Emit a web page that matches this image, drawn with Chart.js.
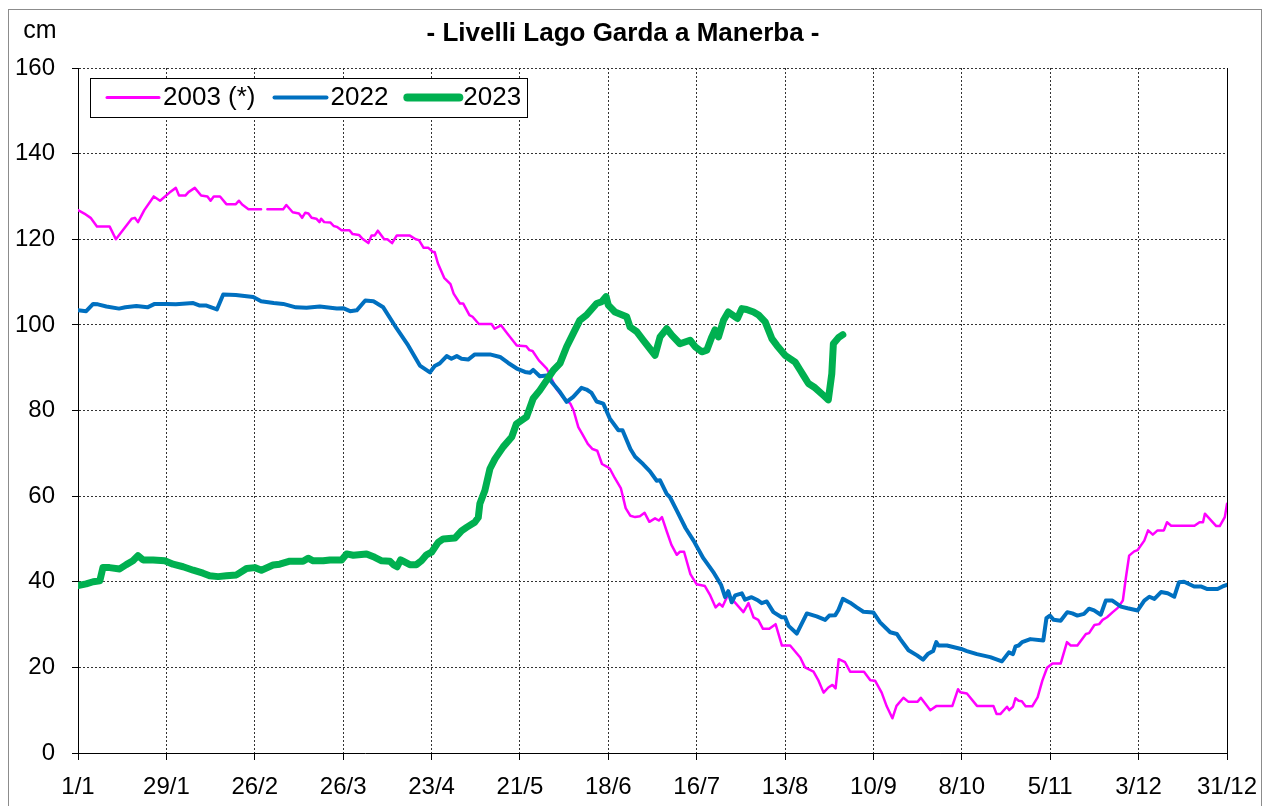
<!DOCTYPE html>
<html lang="it">
  <head>
    <meta charset="UTF-8" />
    <title>Livelli Lago Garda a Manerba</title>
    <script src="https://cdn.jsdelivr.net/npm/chart.js"></script>
    <style>
      html, body { margin: 0; padding: 0; background: #fff; }
    </style>
  </head>
  <body>
    <canvas id="lagoChart" width="1264" height="806"></canvas>

    <script>
      // giorno dell'anno (0 = 1/1), livello in cm
      const xTickLabels = ["1/1", "29/1", "26/2", "26/3", "23/4", "21/5", "18/6", "16/7", "13/8", "10/9", "8/10", "5/11", "3/12", "31/12"];

      const days2003 = [0, 2, 4, 6, 10, 12, 17, 18, 19, 21, 24, 26, 29, 31, 32, 34, 35, 37, 39, 41, 42, 43, 45, 47, 50, 51, 52, 54, 58, 59, 60, 65, 66, 68, 70, 71, 72, 73, 74, 75.5, 76.5, 77, 78, 80, 81, 82, 83.5, 86, 87, 89, 90, 92, 93, 94, 95, 97, 98, 99.5, 101, 105, 107, 108, 109.5, 111, 112.5, 113, 114, 116, 118, 119, 121, 122, 124, 125, 127, 131, 132, 134, 136, 139, 142, 143, 144, 146, 148.5, 150.5, 151.5, 153.5, 156, 157, 158.5, 160, 161.5, 163, 164.5, 166, 167.5, 168.5, 170, 172, 173.5, 175, 176.5, 178, 179.5, 181, 182.8, 184, 185, 186.5, 188, 189.7, 190.7, 192, 194, 196, 198.6, 200.3, 202, 203.2, 204.2, 206, 207.6, 210.8, 212.4, 214, 215.5, 217, 219, 221, 223, 225.6, 228.8, 230.3, 233, 234.6, 236.2, 237.7, 239, 240, 241, 243, 244.6, 249, 251, 252.5, 254.6, 256.2, 258, 259.3, 261.5, 263, 266, 267, 270, 272, 277, 278.8, 279.5, 281.6, 284.8, 290, 291, 292.2, 294.3, 295, 296.2, 297, 298, 299, 300.2, 302.3, 304, 305.5, 307, 308.7, 311.3, 313.3, 314.5, 316.6, 319.3, 320.3, 322, 323.5, 324.6, 326, 327.8, 329.4, 331, 332, 333, 334.6, 335.7, 337.8, 339, 340.5, 342, 344, 345, 346.3, 353.7, 355.3, 356.4, 357, 359, 360.6, 361.7, 363.3, 364];
      const lvl2003 = [126.8, 126, 125, 123, 123, 120, 124.8, 125, 124, 126.8, 130, 129, 130.9, 132, 130.2, 130.2, 131, 132, 130.2, 130, 129, 130, 130, 128.2, 128.2, 129, 128.1, 127, 127, null, 127, 127, 128, 126.3, 126, 125, 126.2, 126, 125, 124.8, 124, 124.8, 124, 123.9, 123.1, 122.9, 122.1, 122.1, 121.2, 121, 120.2, 119.1, 120.9, 120.9, 122, 120, 120, 119.1, 120.9, 120.9, 120, 119.8, 118, 118, 117, 117, 114.4, 111, 109.5, 107.3, 105, 105, 102.3, 101.9, 100.2, 100.2, 99.1, 99.9, 98, 95.2, 95, 94.1, 93.9, 91.7, 89.8, 86.7, 85.1, 83.2, 81.6, 80, 76.1, 74.2, 72.2, 71, 70.6, 67.5, 66.9, 66.4, 64.3, 61.8, 57.2, 55.4, 55.1, 55.3, 56.1, 54, 54.8, 54.3, 55.1, 51.8, 48.6, 46.3, 47, 47, 41.8, 39.4, 39, 36.8, 34, 34.9, 34.2, 37.1, 35.6, 32.9, 35, 31.7, 31.1, 29, 29, 30.1, 25.1, 25.1, 22.3, 20, 19, 16.9, 14.1, 15.3, 15.9, 15.1, 21.9, 21.2, 19, 19, 17, 16.9, 14.1, 10.9, 8.1, 11, 12.9, 12, 12, 12.9, 10, 11, 11, 14.9, 14.2, 13.9, 11, 11, 9.1, 9.1, 10.8, 10, 10.8, 12.8, 12.2, 12.1, 10.9, 10.9, 13, 16.9, 19.9, 20.9, 20.9, 25.9, 25.1, 25.1, 27.8, 28, 29.9, 30.1, 31.1, 31.7, 32.9, 33.9, 35.6, 41.1, 46.1, 47.1, 47.4, 49.6, 52, 51, 52, 52, 53.9, 53.1, 53.1, 53.9, 53.9, 55.9, 54.3, 53, 53, 55.1, 58.2];

      const days2022 = [0, 2.6, 4.8, 6.3, 9, 13, 15, 18.5, 22, 24.3, 28, 31, 36.5, 38.6, 40.7, 44, 46, 50, 55.5, 58, 62, 65, 69, 72.4, 76.6, 82, 84, 86.2, 88.3, 91, 93.6, 96.7, 101, 104.6, 108.3, 111.5, 113, 114.6, 116.8, 118.3, 120, 121.5, 123.6, 125.7, 130.5, 133.7, 136.3, 139, 141.6, 143.2, 144.2, 146.3, 148.5, 150, 152.7, 154.8, 156.9, 159.5, 161.1, 162.7, 164.3, 166.4, 168.5, 171.2, 172.5, 175, 176.5, 179, 181.2, 183.3, 184.4, 186.5, 187.5, 189.7, 192.5, 195, 198.1, 201.5, 203.7, 205, 206, 207.1, 208.2, 210.3, 211.3, 213.4, 215.5, 216.6, 218.2, 220.3, 222.9, 224, 225.1, 227.7, 230.9, 234, 236.7, 238, 239.9, 240.9, 242.3, 244.6, 246.7, 248.8, 252, 254.1, 257.3, 259.4, 260.5, 263.1, 265.8, 267.7, 269.2, 270.9, 271.9, 272.6, 275.3, 279.8, 281.6, 284.8, 289, 292.7, 294.9, 296.2, 297, 298, 299.1, 301.7, 305.8, 306.8, 307.9, 309.1, 311.3, 313.4, 315, 316.6, 318.7, 320.3, 321.9, 324, 325.6, 327.7, 330.4, 332.5, 335.7, 337.8, 339.4, 341, 343.1, 345.2, 347.3, 348.8, 350.4, 353.6, 355.7, 357.8, 361, 362.6, 364];
      const lvl2022 = [103.4, 103.2, 104.9, 104.8, 104.3, 103.8, 104.1, 104.4, 104.1, 104.9, 104.9, 104.8, 105.1, 104.5, 104.5, 103.6, 107.1, 107, 106.5, 105.5, 105.1, 104.9, 104.1, 104, 104.3, 103.8, 103.9, 103.2, 103.4, 105.7, 105.5, 104.1, 99.1, 95.2, 90.5, 88.9, 90.4, 91, 92.7, 92.1, 92.7, 92.1, 91.9, 93.1, 93.1, 92.5, 91.1, 89.8, 89, 88.8, 89.5, 88, 88.2, 86.7, 84.3, 82, 83.2, 85.3, 84.9, 84.1, 82.1, 81.6, 78.1, 75.4, 75.4, 71, 69.2, 67.5, 65.8, 63.6, 63.7, 60.5, 59.8, 56.6, 52.5, 49.6, 45.5, 42, 39.3, 36.4, 37.8, 35.2, 36.8, 37.3, 35.8, 36.4, 35.6, 35, 35.4, 32.9, 31.7, 31.7, 29.7, 27.9, 32.6, 31.9, 31.1, 32.1, 32.2, 33.4, 36, 35.1, 34, 33, 32.8, 30.5, 28.2, 27.8, 26.6, 24, 22.8, 21.8, 23.1, 23.8, 25.9, 25.1, 25.1, 24.3, 23.8, 23.1, 22.4, 21.4, 23.5, 23.1, 24.9, 25.1, 25.9, 26.6, 26.3, 31.5, 32.1, 31.1, 30.9, 32.9, 32.6, 32.1, 32.5, 33.7, 33.3, 32.3, 35.6, 35.6, 34.2, 33.8, 33.3, 35.6, 36.5, 36, 37.6, 37.3, 36.5, 39.9, 40, 38.9, 38.9, 38.3, 38.3, 38.9, 39.3];

      const days2023 = [0, 2.6, 4.8, 6.9, 7.9, 10, 13.2, 15.3, 17.4, 19, 20.6, 23.8, 27.5, 30.1, 33.3, 36.5, 39.6, 41.7, 44.4, 47, 50.2, 53.4, 56, 58.1, 61.8, 63.9, 67.1, 71.3, 72.9, 74.5, 77.7, 79.8, 83.5, 85.1, 87.2, 91.4, 94, 96.2, 98.8, 99.9, 101.1, 102.2, 103, 105.1, 107.2, 108.8, 110.4, 112, 114.1, 115.7, 119.4, 121.5, 123.1, 125.7, 126.8, 127.3, 128.9, 130.5, 132.1, 134.7, 137.4, 138.9, 142.1, 144.2, 146.3, 148.5, 150.6, 152.7, 154.8, 156.9, 159, 161.1, 164.3, 165.9, 167.3, 168, 170.1, 173.8, 174.9, 177, 179.1, 182.8, 184.4, 186.5, 188.1, 190.7, 193.9, 195.5, 197.6, 199.2, 200.8, 201.8, 202.9, 204.5, 206, 208.9, 210.3, 211.8, 214, 215.6, 217.7, 219.8, 221.4, 224, 227.2, 228.8, 229.8, 231.4, 233.5, 236.2, 237.7, 238.8, 239.3, 240.9, 242.3];
      const lvl2023 = [39.1, 39.5, 40, 40.2, 43.3, 43.3, 43, 44, 44.9, 46.1, 45.1, 45.1, 44.9, 44.1, 43.5, 42.7, 42, 41.4, 41.2, 41.4, 41.6, 43.1, 43.3, 42.7, 43.9, 44.1, 44.8, 44.8, 45.5, 44.9, 44.9, 45.1, 45.1, 46.5, 46.2, 46.5, 45.7, 44.9, 44.8, 44, 43.5, 45.1, 44.8, 44, 44, 44.9, 46.3, 46.9, 49.2, 50, 50.2, 51.9, 52.7, 53.9, 55, 58.2, 61.3, 66.4, 68.7, 71.5, 73.8, 76.9, 78.5, 82.8, 84.7, 87.1, 89.4, 91, 94.9, 98, 101.1, 102.3, 105, 105.4, 106.6, 104.6, 103, 101.9, 99.5, 98.4, 96.4, 92.9, 97.2, 99.1, 97.6, 95.6, 96.4, 94.9, 93.7, 94.1, 97.2, 98.8, 97.2, 101.1, 103, 101.5, 103.8, 103.6, 103, 102.3, 100.7, 96.8, 95.2, 92.9, 91.3, 89.4, 88.2, 86.3, 85.3, 83.5, 82.5, 88.6, 95.6, 97, 97.7];

      const FONT = "'Liberation Sans', Arial, sans-serif";

      function toPoints(days, vals) {
        return days.map((d, i) => ({ x: d, y: vals[i] }));
      }

      // titolo, cornice e legenda disegnati a mano
      const decorations = {
        id: "decorations",
        beforeDraw(chart) {
          const ctx = chart.ctx;
          ctx.save();
          ctx.fillStyle = "#fff";
          ctx.fillRect(0, 0, chart.width, chart.height);
          ctx.restore();
        },
        afterDraw(chart) {
          const ctx = chart.ctx;
          const a = chart.chartArea;
          ctx.save();

          ctx.strokeStyle = "#8c8c8c";
          ctx.lineWidth = 1;
          ctx.strokeRect(8.5, 9.5, 1253, 820);

          // bordo destro dell'area del grafico
          const xr = Math.round(a.right - 0.5) + 0.5;
          ctx.strokeStyle = "#000";
          ctx.beginPath();
          ctx.moveTo(xr, a.top);
          ctx.lineTo(xr, a.bottom);
          ctx.stroke();

          ctx.fillStyle = "#000";
          ctx.textBaseline = "middle";
          ctx.textAlign = "center";
          ctx.font = "bold 26px " + FONT;
          ctx.fillText("- Livelli Lago Garda a Manerba -", 623, 34);
          ctx.font = "25px " + FONT;
          ctx.fillText("cm", 40, 31);

          // legenda
          ctx.fillStyle = "#fff";
          ctx.fillRect(90.5, 78.5, 437, 39);
          ctx.strokeStyle = "#000";
          ctx.strokeRect(90.5, 78.5, 437, 39);
          ctx.font = "26px " + FONT;
          ctx.textAlign = "left";
          let x = 107;
          const y = 97.5;
          chart.data.datasets.forEach((ds) => {
            ctx.strokeStyle = ds.borderColor;
            ctx.lineWidth = ds.legendWidth;
            ctx.lineCap = "round";
            ctx.beginPath();
            ctx.moveTo(x, y);
            ctx.lineTo(x + 52, y);
            ctx.stroke();
            ctx.fillStyle = "#000";
            ctx.fillText(ds.label, x + 56, y);
            x += 56 + ctx.measureText(ds.label).width + 19;
          });
          ctx.restore();
        },
      };

      const ctx = document.getElementById("lagoChart").getContext("2d");
      const lagoChart = new Chart(ctx, {
        type: "line",
        data: {
          datasets: [
            {
              label: "2003 (*)",
              data: toPoints(days2003, lvl2003),
              borderColor: "#ff00ff",
              borderWidth: 2.5,
              legendWidth: 3,
              order: 3,
            },
            {
              label: "2022",
              data: toPoints(days2022, lvl2022),
              borderColor: "#0070c0",
              borderWidth: 4,
              legendWidth: 4,
              order: 2,
            },
            {
              label: "2023",
              data: toPoints(days2023, lvl2023),
              borderColor: "#00b050",
              borderWidth: 7,
              legendWidth: 8,
              order: 1,
            },
          ],
        },
        options: {
          responsive: false,
          animation: false,
          devicePixelRatio: 1,
          spanGaps: false,
          elements: {
            point: { radius: 0 },
            line: { tension: 0, borderJoinStyle: "round", borderCapStyle: "round", fill: false },
          },
          layout: { padding: { top: 68, right: 37, left: 0, bottom: 0 } },
          plugins: {
            legend: { display: false },
            title: { display: false },
            tooltip: { enabled: false },
          },
          scales: {
            x: {
              type: "linear",
              min: 0,
              max: 364,
              afterFit(scale) {
                scale.height = 53;
                scale.paddingLeft = 0;
                scale.paddingRight = 0;
              },
              ticks: {
                stepSize: 28,
                autoSkip: false,
                maxRotation: 0,
                padding: 13,
                color: "#000",
                font: { family: FONT, size: 24 },
                callback: (v) => xTickLabels[v / 28] || "",
              },
              grid: { color: "#333", lineWidth: 1, tickLength: 7, tickColor: "#000" },
              border: { color: "#000", width: 1, dash: [2, 2] },
            },
            y: {
              min: 0,
              max: 160,
              afterFit(scale) { scale.width = 78; },
              ticks: {
                stepSize: 20,
                padding: 17,
                color: "#000",
                font: { family: FONT, size: 24 },
              },
              grid: { color: "#333", lineWidth: 1, tickLength: 6, tickColor: "#000" },
              border: { color: "#000", width: 1, dash: [2, 2] },
            },
          },
        },
        plugins: [decorations],
      });
    </script>
  </body>
</html>
